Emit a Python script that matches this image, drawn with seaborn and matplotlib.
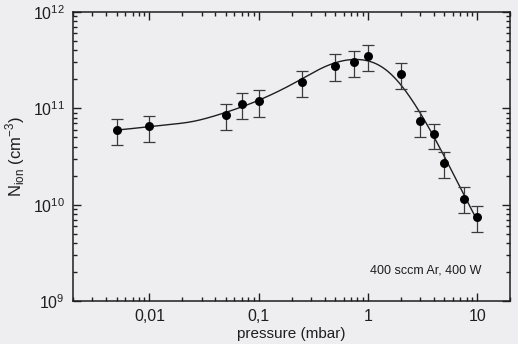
import numpy as np
import pandas as pd
import matplotlib
matplotlib.use("Agg")
import matplotlib.pyplot as plt
import seaborn as sns
from matplotlib.ticker import LogLocator, FixedLocator, FixedFormatter, NullFormatter

# Messwerte (Ionendichte vs. Druck)
pressure = [0.005, 0.01, 0.05, 0.07, 0.1, 0.25, 0.5, 0.75, 1.0, 2.0, 3.0, 4.0, 5.0, 7.5, 10.0]
n_ion = [5.95e10, 6.5e10, 8.5e10, 1.11e11, 1.19e11, 1.86e11, 2.77e11, 3.05e11, 3.52e11,
         2.26e11, 7.33e10, 5.37e10, 2.72e10, 1.15e10, 7.38e9]
n_upper = [7.7e10, 8.3e10, 1.11e11, 1.44e11, 1.55e11, 2.44e11, 3.63e11, 3.96e11, 4.57e11,
           2.93e11, 9.45e10, 6.92e10, 3.49e10, 1.51e10, 9.66e9]
n_lower = [4.16e10, 4.47e10, 5.95e10, 7.7e10, 8.1e10, 1.30e11, 1.94e11, 2.11e11, 2.45e11,
           1.57e11, 5.07e10, 3.75e10, 1.88e10, 8.18e9, 5.2e9]

x_ticks = [0.01, 0.1, 1, 10]
x_tick_labels = ["0,01", "0,1", "1", "10"]
y_ticks = [1e9, 1e10, 1e11, 1e12]
y_tick_labels = [r"$\mathregular{10^{9}}$", r"$\mathregular{10^{10}}$",
                 r"$\mathregular{10^{11}}$", r"$\mathregular{10^{12}}$"]

df = pd.DataFrame({"p": pressure, "n": n_ion, "hi": n_upper, "lo": n_lower})


def local_fit(lx, ly, xs, bw=0.35):
    # lokal quadratische Glättung (Gauss-Gewichte) im log-log-Raum
    out = []
    for x0 in xs:
        w = np.exp(-0.5 * ((lx - x0) / bw) ** 2)
        c = np.polyfit(lx - x0, ly, 2, w=np.sqrt(w))
        out.append(c[-1])
    return np.array(out)


sns.set_style("ticks")
plt.rcParams['font.family'] = ['Liberation Sans', 'DejaVu Sans']
plt.rcParams['mathtext.fontset'] = 'custom'
plt.rcParams['mathtext.rm'] = 'Liberation Sans'

bg = "#eeeef0"
ink = "#1e1e1e"
fig = plt.figure(figsize=(5.18, 3.44), dpi=100, facecolor=bg)
ax = fig.add_axes([0.141, 0.125, 0.844, 0.840])
ax.set_facecolor(bg)

# Ausgleichskurve
lx = np.log10(df["p"].values)
ly = np.log10(df["n"].values)
xs = np.linspace(lx.min(), lx.max(), 300)
fit = pd.DataFrame({"p": 10 ** xs, "n": 10 ** local_fit(lx, ly, xs)})
sns.lineplot(data=fit, x="p", y="n", ax=ax, color=ink, linewidth=1.0)

ax.errorbar(df["p"], df["n"], yerr=[df["n"] - df["lo"], df["hi"] - df["n"]],
            fmt="none", ecolor="#3a3a3a", elinewidth=0.9, capsize=4.5, capthick=0.9)
sns.scatterplot(data=df, x="p", y="n", ax=ax, color="black", s=42, edgecolor="black",
                linewidth=0, zorder=5)

ax.set_xscale("log")
ax.set_yscale("log")
ax.set_xlim(0.002, 20)
ax.set_ylim(1e9, 1e12)

ax.xaxis.set_major_locator(FixedLocator(x_ticks))
ax.xaxis.set_major_formatter(FixedFormatter(x_tick_labels))
ax.xaxis.set_minor_locator(LogLocator(base=10, subs=np.arange(2, 10), numticks=20))
ax.xaxis.set_minor_formatter(NullFormatter())
ax.yaxis.set_major_locator(FixedLocator(y_ticks))
ax.yaxis.set_major_formatter(FixedFormatter(y_tick_labels))
ax.yaxis.set_minor_locator(LogLocator(base=10, subs=np.arange(2, 10), numticks=20))
ax.yaxis.set_minor_formatter(NullFormatter())

ax.tick_params(which="both", direction="in", top=True, right=True, color=ink, width=1.0)
ax.tick_params(which="major", length=6, labelsize=11.5, labelcolor=ink, pad=6)
ax.tick_params(which="minor", length=3)
for s in ax.spines.values():
    s.set_color(ink)
    s.set_linewidth(1.1)

ax.set_xlabel("pressure (mbar)", fontsize=11, color=ink, labelpad=2)
ax.set_ylabel(r"N$_{\mathregular{ion}}$ (cm$^{\mathregular{-3}}$)", fontsize=12, color=ink, labelpad=4)

ax.text(0.935, 0.105, "400 sccm Ar, 400 W", transform=ax.transAxes, ha="right", va="center",
        fontsize=9, color=ink)

fig.savefig("out.png", dpi=100, facecolor=bg)
